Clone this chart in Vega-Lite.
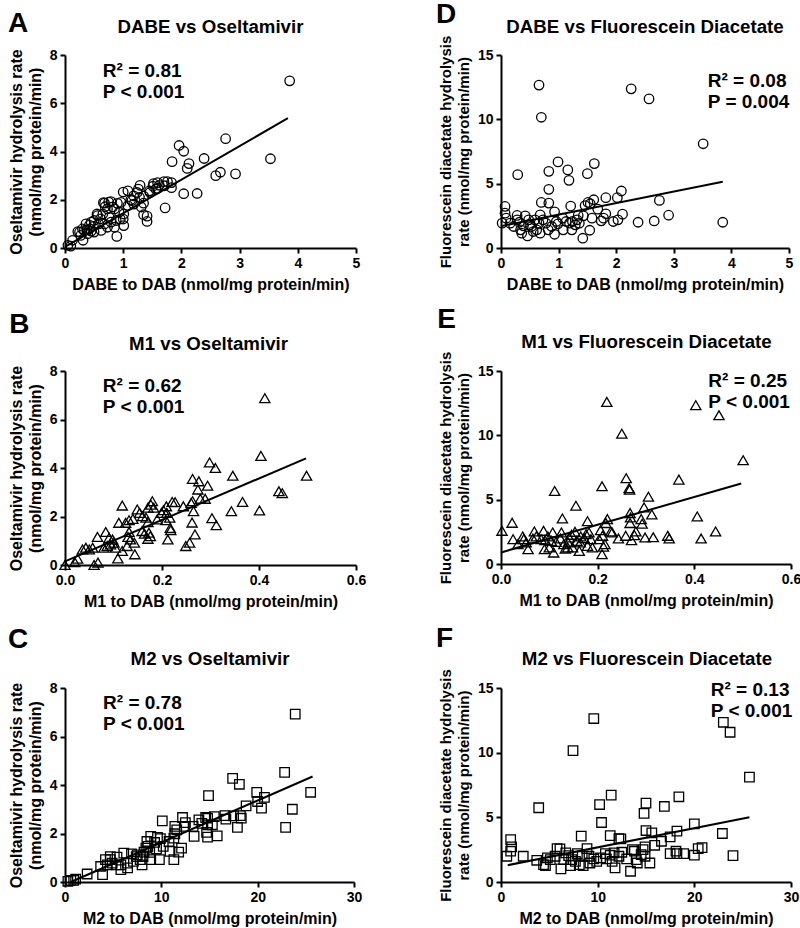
{
"$schema": "https://vega.github.io/schema/vega-lite/v6.json",
"padding": {"left": 7, "top": 0, "right": 5, "bottom": 5},
"background": "white",
"config": {
  "font": "Liberation Sans",
  "view": {"stroke": null},
  "axis": {"grid": false, "domainColor": "#000", "domainWidth": 2, "tickColor": "#000", "tickWidth": 2, "tickSize": 5,
    "labelFont": "Liberation Sans", "labelFontSize": 14, "labelFontWeight": "bold", "labelColor": "#000", "labelPadding": 3,
    "labelFlush": false, "labelOverlap": false,
    "titleFont": "Liberation Sans", "titleFontSize": 16, "titleFontWeight": "bold", "titleColor": "#000", "titlePadding": 6, "titleLineHeight": 19},
  "text": {"font": "Liberation Sans", "fontWeight": "bold", "color": "#000"}
},
"datasets": {
  "A": [{"x":0.05,"y":0.11},{"x":0.10,"y":0.08},{"x":0.13,"y":0.32},{"x":0.31,"y":0.32},{"x":0.22,"y":0.68},{"x":0.25,"y":0.66},{"x":0.27,"y":0.52},{"x":0.30,"y":0.79},{"x":0.33,"y":0.73},{"x":0.36,"y":1.0},{"x":0.39,"y":0.59},{"x":0.42,"y":0.79},{"x":0.45,"y":1.07},{"x":0.49,"y":0.9},{"x":0.50,"y":1.14},{"x":0.50,"y":0.66},{"x":0.55,"y":1.41},{"x":0.56,"y":1.34},{"x":0.61,"y":1.21},{"x":0.62,"y":0.73},{"x":0.65,"y":1.41},{"x":0.68,"y":1.0},{"x":0.68,"y":1.86},{"x":0.69,"y":1.71},{"x":0.73,"y":1.62},{"x":0.73,"y":0.86},{"x":0.76,"y":1.27},{"x":0.79,"y":1.92},{"x":0.79,"y":1.07},{"x":0.85,"y":1.62},{"x":0.85,"y":0.86},{"x":0.88,"y":1.14},{"x":0.89,"y":0.48},{"x":0.90,"y":1.85},{"x":0.93,"y":1.48},{"x":0.96,"y":1.89},{"x":1.0,"y":2.32},{"x":1.01,"y":1.41},{"x":1.01,"y":0.93},{"x":1.08,"y":2.37},{"x":1.08,"y":1.75},{"x":1.15,"y":1.96},{"x":1.18,"y":2.16},{"x":1.18,"y":1.82},{"x":1.24,"y":2.3},{"x":1.26,"y":2.44},{"x":1.28,"y":2.1},{"x":1.29,"y":2.6},{"x":1.31,"y":1.7},{"x":1.35,"y":2.15},{"x":1.35,"y":1.86},{"x":1.35,"y":1.38},{"x":1.41,"y":1.32},{"x":1.41,"y":1.10},{"x":1.45,"y":2.37},{"x":1.46,"y":2.3},{"x":1.51,"y":2.56},{"x":1.52,"y":2.67},{"x":1.56,"y":2.44},{"x":1.59,"y":2.71},{"x":1.59,"y":2.47},{"x":1.62,"y":2.6},{"x":1.70,"y":2.75},{"x":1.71,"y":2.58},{"x":1.72,"y":1.66},{"x":1.76,"y":2.75},{"x":1.83,"y":2.71},{"x":1.83,"y":2.5},{"x":1.84,"y":3.58},{"x":1.96,"y":4.25},{"x":2.04,"y":4.01},{"x":2.04,"y":2.25},{"x":2.10,"y":3.30},{"x":2.13,"y":3.5},{"x":2.27,"y":2.26},{"x":2.39,"y":3.71},{"x":2.59,"y":3.0},{"x":2.67,"y":3.14},{"x":2.76,"y":4.53},{"x":2.93,"y":3.07},{"x":3.53,"y":3.70},{"x":3.86,"y":6.93},{"x":0.66,"y":1.88},{"x":0.75,"y":1.9},{"x":0.82,"y":1.7},{"x":0.95,"y":1.2},{"x":0.58,"y":1.0},{"x":0.45,"y":0.7},{"x":0.38,"y":0.75},{"x":0.42,"y":0.95},{"x":1.0,"y":1.2},{"x":1.13,"y":2.0}],
  "D": [{"x":0.02,"y":1.93},{"x":0.07,"y":3.23},{"x":0.07,"y":2.71},{"x":0.09,"y":2.32},{"x":0.16,"y":1.93},{"x":0.22,"y":1.67},{"x":0.28,"y":2.53},{"x":0.28,"y":2.19},{"x":0.29,"y":5.7},{"x":0.32,"y":2.0},{"x":0.34,"y":1.41},{"x":0.36,"y":1.15},{"x":0.39,"y":1.72},{"x":0.42,"y":2.5},{"x":0.46,"y":0.94},{"x":0.48,"y":2.19},{"x":0.50,"y":1.8},{"x":0.53,"y":1.67},{"x":0.56,"y":1.28},{"x":0.59,"y":2.19},{"x":0.62,"y":1.41},{"x":0.66,"y":1.93},{"x":0.66,"y":12.66},{"x":0.68,"y":2.58},{"x":0.68,"y":1.15},{"x":0.70,"y":10.16},{"x":0.70,"y":3.54},{"x":0.73,"y":2.19},{"x":0.78,"y":1.93},{"x":0.82,"y":1.41},{"x":0.83,"y":5.96},{"x":0.83,"y":4.56},{"x":0.83,"y":3.49},{"x":0.88,"y":1.67},{"x":0.93,"y":2.81},{"x":0.93,"y":1.07},{"x":0.96,"y":2.06},{"x":0.99,"y":6.69},{"x":0.99,"y":1.88},{"x":1.07,"y":2.32},{"x":1.08,"y":1.41},{"x":1.13,"y":2.06},{"x":1.16,"y":6.07},{"x":1.18,"y":5.26},{"x":1.19,"y":1.93},{"x":1.21,"y":3.26},{"x":1.23,"y":1.41},{"x":1.24,"y":2.06},{"x":1.29,"y":1.8},{"x":1.32,"y":2.19},{"x":1.34,"y":2.53},{"x":1.36,"y":1.93},{"x":1.42,"y":0.76},{"x":1.43,"y":2.5},{"x":1.46,"y":3.3},{"x":1.50,"y":5.78},{"x":1.51,"y":3.54},{"x":1.54,"y":1.38},{"x":1.55,"y":3.44},{"x":1.58,"y":2.32},{"x":1.61,"y":3.75},{"x":1.62,"y":6.56},{"x":1.68,"y":3.02},{"x":1.74,"y":2.11},{"x":1.78,"y":2.32},{"x":1.82,"y":3.91},{"x":1.82,"y":2.66},{"x":1.95,"y":2.06},{"x":2.02,"y":3.91},{"x":2.03,"y":2.19},{"x":2.09,"y":4.43},{"x":2.11,"y":2.63},{"x":2.26,"y":12.37},{"x":2.38,"y":2.0},{"x":2.57,"y":11.59},{"x":2.66,"y":2.1},{"x":2.75,"y":3.7},{"x":2.91,"y":2.55},{"x":3.51,"y":8.1},{"x":3.85,"y":2.0}],
  "B": [{"x":0.0,"y":0.0},{"x":0.02,"y":0.12},{"x":0.026,"y":0.26},{"x":0.036,"y":0.64},{"x":0.043,"y":0.71},{"x":0.05,"y":0.64},{"x":0.057,"y":0.71},{"x":0.06,"y":0.0},{"x":0.067,"y":1.16},{"x":0.068,"y":0.1},{"x":0.08,"y":0.71},{"x":0.084,"y":1.36},{"x":0.087,"y":0.78},{"x":0.091,"y":1.12},{"x":0.094,"y":0.85},{"x":0.098,"y":1.05},{"x":0.101,"y":0.92},{"x":0.104,"y":0.71},{"x":0.109,"y":0.27},{"x":0.111,"y":1.74},{"x":0.118,"y":2.45},{"x":0.118,"y":0.58},{"x":0.125,"y":1.74},{"x":0.128,"y":0.78},{"x":0.13,"y":1.16},{"x":0.132,"y":1.85},{"x":0.132,"y":1.36},{"x":0.135,"y":1.05},{"x":0.14,"y":1.9},{"x":0.143,"y":0.92},{"x":0.144,"y":0.44},{"x":0.149,"y":2.29},{"x":0.154,"y":2.15},{"x":0.159,"y":1.4},{"x":0.16,"y":2.01},{"x":0.164,"y":1.29},{"x":0.167,"y":1.95},{"x":0.171,"y":2.36},{"x":0.171,"y":1.77},{"x":0.171,"y":1.08},{"x":0.173,"y":1.33},{"x":0.176,"y":1.19},{"x":0.177,"y":2.49},{"x":0.18,"y":2.63},{"x":0.183,"y":2.36},{"x":0.19,"y":1.88},{"x":0.199,"y":2.15},{"x":0.203,"y":2.26},{"x":0.208,"y":1.85},{"x":0.209,"y":2.42},{"x":0.21,"y":2.15},{"x":0.212,"y":1.05},{"x":0.216,"y":1.95},{"x":0.217,"y":1.53},{"x":0.218,"y":1.44},{"x":0.221,"y":2.6},{"x":0.227,"y":2.59},{"x":0.244,"y":2.42},{"x":0.249,"y":0.78},{"x":0.257,"y":0.92},{"x":0.26,"y":2.56},{"x":0.262,"y":1.75},{"x":0.263,"y":3.55},{"x":0.263,"y":2.63},{"x":0.265,"y":2.22},{"x":0.268,"y":1.26},{"x":0.274,"y":3.11},{"x":0.276,"y":3.45},{"x":0.279,"y":2.73},{"x":0.289,"y":2.73},{"x":0.294,"y":3.27},{"x":0.298,"y":4.23},{"x":0.303,"y":1.93},{"x":0.31,"y":4.0},{"x":0.312,"y":1.64},{"x":0.343,"y":2.22},{"x":0.346,"y":3.68},{"x":0.366,"y":2.6},{"x":0.401,"y":2.25},{"x":0.404,"y":4.5},{"x":0.412,"y":6.88},{"x":0.441,"y":3.04},{"x":0.448,"y":2.96},{"x":0.498,"y":3.68}],
  "E": [{"x":0.002,"y":2.58},{"x":0.023,"y":3.2},{"x":0.025,"y":1.93},{"x":0.035,"y":1.54},{"x":0.045,"y":2.14},{"x":0.047,"y":1.93},{"x":0.052,"y":1.67},{"x":0.056,"y":1.15},{"x":0.066,"y":1.98},{"x":0.069,"y":2.53},{"x":0.073,"y":2.14},{"x":0.083,"y":1.93},{"x":0.088,"y":2.58},{"x":0.09,"y":1.15},{"x":0.091,"y":1.85},{"x":0.097,"y":2.14},{"x":0.1,"y":1.28},{"x":0.104,"y":1.8},{"x":0.107,"y":2.45},{"x":0.109,"y":0.89},{"x":0.111,"y":5.68},{"x":0.114,"y":1.72},{"x":0.123,"y":1.98},{"x":0.125,"y":2.45},{"x":0.127,"y":3.54},{"x":0.13,"y":1.54},{"x":0.133,"y":1.2},{"x":0.138,"y":1.28},{"x":0.139,"y":1.67},{"x":0.141,"y":2.06},{"x":0.146,"y":2.27},{"x":0.148,"y":1.28},{"x":0.153,"y":2.5},{"x":0.155,"y":4.53},{"x":0.157,"y":1.8},{"x":0.162,"y":1.02},{"x":0.164,"y":1.67},{"x":0.165,"y":2.14},{"x":0.172,"y":2.0},{"x":0.176,"y":2.32},{"x":0.179,"y":3.33},{"x":0.179,"y":1.41},{"x":0.182,"y":2.45},{"x":0.186,"y":1.93},{"x":0.189,"y":1.28},{"x":0.203,"y":1.93},{"x":0.206,"y":2.63},{"x":0.209,"y":6.04},{"x":0.209,"y":0.76},{"x":0.21,"y":2.19},{"x":0.212,"y":1.35},{"x":0.215,"y":1.54},{"x":0.217,"y":3.18},{"x":0.219,"y":12.6},{"x":0.22,"y":3.49},{"x":0.227,"y":2.53},{"x":0.23,"y":2.45},{"x":0.243,"y":1.98},{"x":0.25,"y":10.13},{"x":0.258,"y":2.19},{"x":0.259,"y":6.67},{"x":0.265,"y":5.89},{"x":0.266,"y":5.78},{"x":0.267,"y":3.96},{"x":0.267,"y":3.18},{"x":0.268,"y":3.62},{"x":0.27,"y":1.85},{"x":0.276,"y":2.24},{"x":0.279,"y":2.53},{"x":0.29,"y":3.49},{"x":0.292,"y":3.13},{"x":0.296,"y":4.4},{"x":0.298,"y":2.06},{"x":0.305,"y":5.23},{"x":0.312,"y":3.85},{"x":0.315,"y":2.08},{"x":0.345,"y":2.19},{"x":0.348,"y":1.98},{"x":0.368,"y":6.56},{"x":0.403,"y":12.34},{"x":0.406,"y":3.7},{"x":0.414,"y":1.98},{"x":0.444,"y":2.53},{"x":0.451,"y":11.56},{"x":0.501,"y":8.07}],
  "C": [{"x":0.3,"y":0.03},{"x":0.6,"y":0.07},{"x":0.9,"y":0.07},{"x":1.1,"y":0.12},{"x":2.3,"y":0.33},{"x":3.7,"y":0.64},{"x":3.9,"y":0.3},{"x":4.2,"y":0.92},{"x":4.4,"y":0.71},{"x":4.7,"y":0.92},{"x":4.7,"y":1.05},{"x":4.9,"y":0.78},{"x":5.3,"y":0.71},{"x":5.4,"y":1.03},{"x":5.8,"y":0.71},{"x":5.8,"y":0.51},{"x":6.1,"y":1.19},{"x":6.5,"y":0.78},{"x":6.5,"y":0.58},{"x":6.9,"y":1.16},{"x":7.1,"y":0.85},{"x":7.4,"y":1.05},{"x":7.5,"y":1.12},{"x":7.8,"y":0.92},{"x":8.0,"y":0.71},{"x":8.1,"y":1.05},{"x":8.2,"y":1.23},{"x":8.4,"y":1.4},{"x":8.5,"y":1.67},{"x":8.6,"y":1.47},{"x":8.8,"y":1.22},{"x":8.9,"y":1.88},{"x":8.9,"y":0.92},{"x":9.3,"y":1.63},{"x":9.5,"y":1.36},{"x":9.6,"y":1.84},{"x":9.8,"y":0.92},{"x":9.9,"y":1.79},{"x":10.1,"y":2.52},{"x":10.2,"y":1.47},{"x":10.8,"y":1.67},{"x":10.9,"y":1.26},{"x":11.3,"y":1.81},{"x":11.3,"y":0.92},{"x":11.4,"y":2.29},{"x":11.4,"y":1.99},{"x":11.6,"y":2.15},{"x":11.8,"y":1.23},{"x":12.1,"y":1.4},{"x":12.2,"y":2.66},{"x":12.4,"y":2.29},{"x":12.5,"y":2.45},{"x":13.3,"y":2.29},{"x":13.4,"y":1.88},{"x":13.9,"y":2.56},{"x":14.2,"y":2.42},{"x":14.6,"y":2.66},{"x":14.7,"y":2.05},{"x":14.8,"y":2.63},{"x":14.8,"y":2.36},{"x":14.8,"y":1.85},{"x":14.9,"y":3.56},{"x":15.3,"y":2.36},{"x":15.5,"y":2.7},{"x":15.8,"y":1.9},{"x":16.6,"y":2.74},{"x":16.7,"y":2.59},{"x":17.4,"y":4.27},{"x":17.5,"y":2.73},{"x":17.9,"y":2.25},{"x":18.1,"y":4.03},{"x":18.2,"y":2.74},{"x":18.3,"y":2.63},{"x":18.8,"y":3.14},{"x":19.9,"y":3.7},{"x":20.0,"y":3.32},{"x":20.4,"y":3.05},{"x":20.7,"y":3.49},{"x":22.8,"y":4.52},{"x":22.9,"y":2.25},{"x":23.6,"y":3.0},{"x":23.9,"y":6.92},{"x":25.5,"y":3.7}],
  "F": [{"x":0.6,"y":1.99},{"x":1.0,"y":3.28},{"x":1.0,"y":2.38},{"x":1.1,"y":2.71},{"x":2.3,"y":1.99},{"x":3.7,"y":1.68},{"x":3.9,"y":5.74},{"x":4.4,"y":1.34},{"x":4.6,"y":1.27},{"x":4.8,"y":1.86},{"x":5.1,"y":1.73},{"x":5.6,"y":1.99},{"x":5.8,"y":2.58},{"x":6.1,"y":2.56},{"x":6.2,"y":1.01},{"x":6.5,"y":1.73},{"x":6.7,"y":2.25},{"x":7.0,"y":2.04},{"x":7.2,"y":1.27},{"x":7.3,"y":1.73},{"x":7.45,"y":10.16},{"x":7.7,"y":1.6},{"x":7.9,"y":2.2},{"x":8.1,"y":1.34},{"x":8.3,"y":3.54},{"x":8.4,"y":1.99},{"x":8.5,"y":1.27},{"x":8.9,"y":2.58},{"x":9.1,"y":1.99},{"x":9.2,"y":1.47},{"x":9.6,"y":12.64},{"x":9.6,"y":1.78},{"x":9.9,"y":1.6},{"x":10.2,"y":5.99},{"x":10.3,"y":1.86},{"x":10.4,"y":4.6},{"x":10.8,"y":2.2},{"x":10.9,"y":1.78},{"x":11.3,"y":3.59},{"x":11.3,"y":2.07},{"x":11.4,"y":6.72},{"x":11.5,"y":1.6},{"x":11.7,"y":2.25},{"x":11.8,"y":1.09},{"x":12.2,"y":3.36},{"x":12.2,"y":1.99},{"x":12.4,"y":3.33},{"x":12.5,"y":2.3},{"x":13.0,"y":1.78},{"x":13.4,"y":0.83},{"x":13.6,"y":2.51},{"x":13.8,"y":2.38},{"x":14.0,"y":1.73},{"x":14.1,"y":1.47},{"x":14.5,"y":2.12},{"x":14.7,"y":2.51},{"x":14.8,"y":5.3},{"x":14.9,"y":2.71},{"x":14.9,"y":1.99},{"x":15.0,"y":6.1},{"x":15.0,"y":3.98},{"x":15.4,"y":1.47},{"x":15.6,"y":3.8},{"x":15.9,"y":2.84},{"x":16.6,"y":3.15},{"x":16.9,"y":5.84},{"x":17.5,"y":3.49},{"x":17.5,"y":2.2},{"x":18.1,"y":2.38},{"x":18.2,"y":3.93},{"x":18.2,"y":2.2},{"x":18.4,"y":6.59},{"x":18.9,"y":2.2},{"x":20.0,"y":4.5},{"x":20.0,"y":2.07},{"x":20.4,"y":2.58},{"x":20.8,"y":2.66},{"x":22.9,"y":3.75},{"x":23.0,"y":12.35},{"x":23.7,"y":11.58},{"x":24.0,"y":2.04},{"x":25.7,"y":8.11}],
  "fitA": [{"x":0,"y":0.05},{"x":3.83,"y":5.38}],
  "fitD": [{"x":0,"y":1.7},{"x":3.85,"y":5.15}],
  "fitB": [{"x":0,"y":0.15},{"x":0.497,"y":4.4}],
  "fitE": [{"x":0,"y":0.9},{"x":0.497,"y":6.25}],
  "fitC": [{"x":0.6,"y":0.0},{"x":25.7,"y":4.35}],
  "fitF": [{"x":0.7,"y":1.3},{"x":25.7,"y":5.0}]
},
"columns": 2,
"spacing": {"row": 123, "column": 145},
"bounds": "flush",
"concat": [
 {"width": 291, "height": 193, "layer": [
  {"data": {"name": "A"}, "mark": {"type": "point", "shape": "circle", "filled": false, "size": 90, "color": "#000", "strokeWidth": 1.3, "opacity": 1},
   "encoding": {"x": {"field": "x", "type": "quantitative", "scale": {"domain": [0, 5], "nice": false}, "axis": {"title": "DABE to DAB (nmol/mg protein/min)", "values": [0,1,2,3,4,5], "format": "d"}},
                "y": {"field": "y", "type": "quantitative", "scale": {"domain": [0, 8], "nice": false}, "axis": {"title": ["Oseltamivir hydrolysis rate", "(nmol/mg protein/min)"], "values": [0,2,4,6,8], "format": "d"}}}},
  {"data": {"name": "fitA"}, "mark": {"type": "line", "color": "#000", "strokeWidth": 2}, "encoding": {"x": {"field": "x", "type": "quantitative"}, "y": {"field": "y", "type": "quantitative"}}},
  {"data": {"values": [{}]}, "mark": {"type": "text", "align": "left", "baseline": "alphabetic", "fontSize": 19, "lineHeight": 21}, "encoding": {"x": {"datum": 0.65}, "y": {"datum": 7.09}, "text": {"value": ["R² = 0.81", "P < 0.001"]}}},
  {"data": {"values": [{}]}, "mark": {"type": "text", "align": "center", "baseline": "alphabetic", "fontSize": 18.7}, "encoding": {"x": {"datum": 2.5}, "y": {"datum": 8.91}, "text": {"value": "DABE vs Oseltamivir"}}},
  {"data": {"values": [{}]}, "mark": {"type": "text", "align": "left", "baseline": "alphabetic", "fontSize": 28}, "encoding": {"x": {"datum": -0.98}, "y": {"datum": 8.95}, "text": {"value": "A"}}}
 ]},
 {"width": 288, "height": 193, "layer": [
  {"data": {"name": "D"}, "mark": {"type": "point", "shape": "circle", "filled": false, "size": 90, "color": "#000", "strokeWidth": 1.3, "opacity": 1},
   "encoding": {"x": {"field": "x", "type": "quantitative", "scale": {"domain": [0, 5], "nice": false}, "axis": {"title": "DABE to DAB (nmol/mg protein/min)", "values": [0,1,2,3,4,5], "format": "d"}},
                "y": {"field": "y", "type": "quantitative", "scale": {"domain": [0, 15], "nice": false}, "axis": {"title": ["Fluorescein diacetate hydrolysis", "rate (nmol/mg protein/min)"], "values": [0,5,10,15], "format": "d", "titleFontSize": 15, "titleLineHeight": 18}}}},
  {"data": {"name": "fitD"}, "mark": {"type": "line", "color": "#000", "strokeWidth": 2}, "encoding": {"x": {"field": "x", "type": "quantitative"}, "y": {"field": "y", "type": "quantitative"}}},
  {"data": {"values": [{}]}, "mark": {"type": "text", "align": "left", "baseline": "alphabetic", "fontSize": 19, "lineHeight": 21}, "encoding": {"x": {"datum": 3.59}, "y": {"datum": 12.51}, "text": {"value": ["R² = 0.08", "P = 0.004"]}}},
  {"data": {"values": [{}]}, "mark": {"type": "text", "align": "center", "baseline": "alphabetic", "fontSize": 18.7}, "encoding": {"x": {"datum": 2.5}, "y": {"datum": 16.71}, "text": {"value": "DABE vs Fluorescein Diacetate"}}},
  {"data": {"values": [{}]}, "mark": {"type": "text", "align": "left", "baseline": "alphabetic", "fontSize": 28}, "encoding": {"x": {"datum": -1.13}, "y": {"datum": 17.49}, "text": {"value": "D"}}}
 ]},
 {"width": 291, "height": 194, "layer": [
  {"data": {"name": "B"}, "mark": {"type": "point", "shape": "triangle-up", "filled": false, "size": 105, "color": "#000", "strokeWidth": 1.3, "opacity": 1},
   "encoding": {"x": {"field": "x", "type": "quantitative", "scale": {"domain": [0, 0.6], "nice": false}, "axis": {"title": "M1 to DAB (nmol/mg protein/min)", "values": [0,0.2,0.4,0.6], "format": ".1f"}},
                "y": {"field": "y", "type": "quantitative", "scale": {"domain": [0, 8], "nice": false}, "axis": {"title": ["Oseltamivir hydrolysis rate", "(nmol/mg protein/min)"], "values": [0,2,4,6,8], "format": "d"}}}},
  {"data": {"name": "fitB"}, "mark": {"type": "line", "color": "#000", "strokeWidth": 2}, "encoding": {"x": {"field": "x", "type": "quantitative"}, "y": {"field": "y", "type": "quantitative"}}},
  {"data": {"values": [{}]}, "mark": {"type": "text", "align": "left", "baseline": "alphabetic", "fontSize": 19, "lineHeight": 21}, "encoding": {"x": {"datum": 0.078}, "y": {"datum": 7.13}, "text": {"value": ["R² = 0.62", "P < 0.001"]}}},
  {"data": {"values": [{}]}, "mark": {"type": "text", "align": "center", "baseline": "alphabetic", "fontSize": 18.7}, "encoding": {"x": {"datum": 0.296}, "y": {"datum": 8.87}, "text": {"value": "M1 vs Oseltamivir"}}},
  {"data": {"values": [{}]}, "mark": {"type": "text", "align": "left", "baseline": "alphabetic", "fontSize": 28}, "encoding": {"x": {"datum": -0.115}, "y": {"datum": 9.57}, "text": {"value": "B"}}}
 ]},
 {"width": 290, "height": 193, "layer": [
  {"data": {"name": "E"}, "mark": {"type": "point", "shape": "triangle-up", "filled": false, "size": 105, "color": "#000", "strokeWidth": 1.3, "opacity": 1},
   "encoding": {"x": {"field": "x", "type": "quantitative", "scale": {"domain": [0, 0.6], "nice": false}, "axis": {"title": "M1 to DAB (nmol/mg protein/min)", "values": [0,0.2,0.4,0.6], "format": ".1f"}},
                "y": {"field": "y", "type": "quantitative", "scale": {"domain": [0, 15], "nice": false}, "axis": {"title": ["Fluorescein diacetate hydrolysis", "rate (nmol/mg protein/min)"], "values": [0,5,10,15], "format": "d", "titleFontSize": 15, "titleLineHeight": 18}}}},
  {"data": {"name": "fitE"}, "mark": {"type": "line", "color": "#000", "strokeWidth": 2}, "encoding": {"x": {"field": "x", "type": "quantitative"}, "y": {"field": "y", "type": "quantitative"}}},
  {"data": {"values": [{}]}, "mark": {"type": "text", "align": "left", "baseline": "alphabetic", "fontSize": 19, "lineHeight": 21}, "encoding": {"x": {"datum": 0.429}, "y": {"datum": 13.76}, "text": {"value": ["R² = 0.25", "P < 0.001"]}}},
  {"data": {"values": [{}]}, "mark": {"type": "text", "align": "center", "baseline": "alphabetic", "fontSize": 18.7}, "encoding": {"x": {"datum": 0.301}, "y": {"datum": 16.79}, "text": {"value": "M1 vs Fluorescein Diacetate"}}},
  {"data": {"values": [{}]}, "mark": {"type": "text", "align": "left", "baseline": "alphabetic", "fontSize": 28}, "encoding": {"x": {"datum": -0.132}, "y": {"datum": 18.34}, "text": {"value": "E"}}}
 ]},
 {"width": 289, "height": 194, "layer": [
  {"data": {"name": "C"}, "mark": {"type": "point", "shape": "square", "filled": false, "size": 90, "color": "#000", "strokeWidth": 1.3, "opacity": 1},
   "encoding": {"x": {"field": "x", "type": "quantitative", "scale": {"domain": [0, 30], "nice": false}, "axis": {"title": "M2 to DAB (nmol/mg protein/min)", "values": [0,10,20,30], "format": "d"}},
                "y": {"field": "y", "type": "quantitative", "scale": {"domain": [0, 8], "nice": false}, "axis": {"title": ["Oseltamivir hydrolysis rate", "(nmol/mg protein/min)"], "values": [0,2,4,6,8], "format": "d"}}}},
  {"data": {"name": "fitC"}, "mark": {"type": "line", "color": "#000", "strokeWidth": 2}, "encoding": {"x": {"field": "x", "type": "quantitative"}, "y": {"field": "y", "type": "quantitative"}}},
  {"data": {"values": [{}]}, "mark": {"type": "text", "align": "left", "baseline": "alphabetic", "fontSize": 19, "lineHeight": 21}, "encoding": {"x": {"datum": 3.95}, "y": {"datum": 7.13}, "text": {"value": ["R² = 0.78", "P < 0.001"]}}},
  {"data": {"values": [{}]}, "mark": {"type": "text", "align": "center", "baseline": "alphabetic", "fontSize": 18.7}, "encoding": {"x": {"datum": 15.06}, "y": {"datum": 8.95}, "text": {"value": "M2 vs Oseltamivir"}}},
  {"data": {"values": [{}]}, "mark": {"type": "text", "align": "left", "baseline": "alphabetic", "fontSize": 28}, "encoding": {"x": {"datum": -5.92}, "y": {"datum": 9.65}, "text": {"value": "C"}}}
 ]},
 {"width": 290, "height": 194, "layer": [
  {"data": {"name": "F"}, "mark": {"type": "point", "shape": "square", "filled": false, "size": 90, "color": "#000", "strokeWidth": 1.3, "opacity": 1},
   "encoding": {"x": {"field": "x", "type": "quantitative", "scale": {"domain": [0, 30], "nice": false}, "axis": {"title": "M2 to DAB (nmol/mg protein/min)", "values": [0,10,20,30], "format": "d"}},
                "y": {"field": "y", "type": "quantitative", "scale": {"domain": [0, 15], "nice": false}, "axis": {"title": ["Fluorescein diacetate hydrolysis", "rate (nmol/mg protein/min)"], "values": [0,5,10,15], "format": "d", "titleFontSize": 15, "titleLineHeight": 18}}}},
  {"data": {"name": "fitF"}, "mark": {"type": "line", "color": "#000", "strokeWidth": 2}, "encoding": {"x": {"field": "x", "type": "quantitative"}, "y": {"field": "y", "type": "quantitative"}}},
  {"data": {"values": [{}]}, "mark": {"type": "text", "align": "left", "baseline": "alphabetic", "fontSize": 19, "lineHeight": 21}, "encoding": {"x": {"datum": 21.7}, "y": {"datum": 14.38}, "text": {"value": ["R² = 0.13", "P < 0.001"]}}},
  {"data": {"values": [{}]}, "mark": {"type": "text", "align": "center", "baseline": "alphabetic", "fontSize": 18.7}, "encoding": {"x": {"datum": 15.1}, "y": {"datum": 16.78}, "text": {"value": "M2 vs Fluorescein Diacetate"}}},
  {"data": {"values": [{}]}, "mark": {"type": "text", "align": "left", "baseline": "alphabetic", "fontSize": 28}, "encoding": {"x": {"datum": -6.72}, "y": {"datum": 18.17}, "text": {"value": "F"}}}
 ]}
]
}
